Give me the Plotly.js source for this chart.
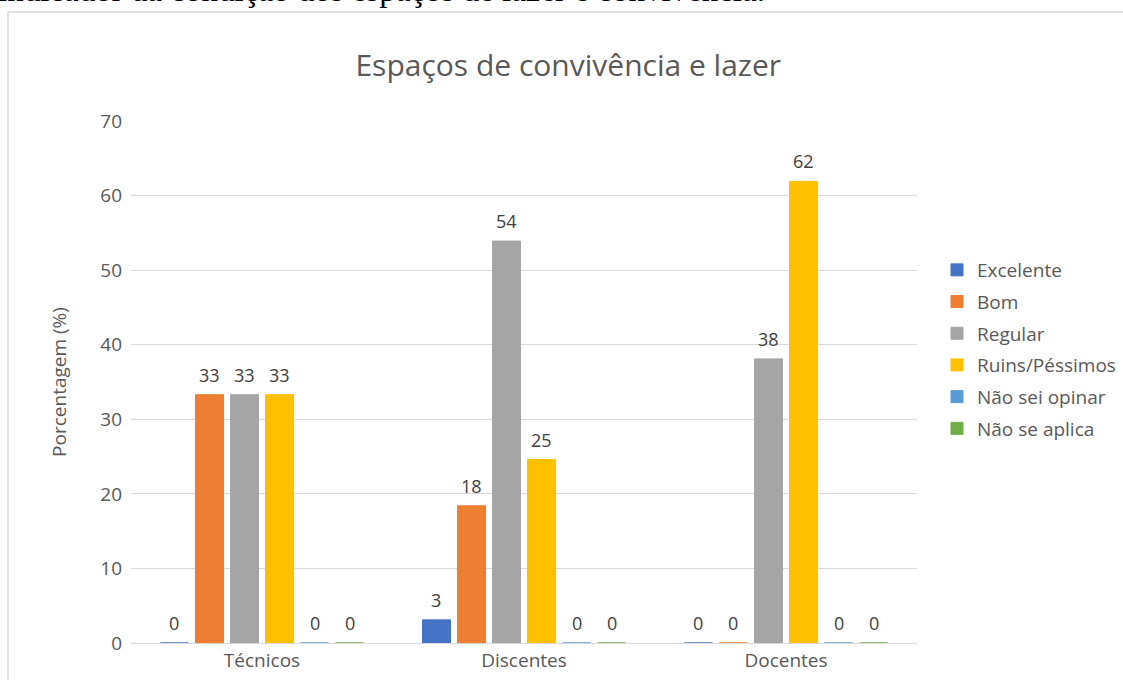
<!DOCTYPE html>
<html>
<head>
<meta charset="utf-8">
<script src="https://cdn.plot.ly/plotly-3.0.1.min.js"></script>
<style>html,body{margin:0;padding:0;background:#fff;}#chart{width:1123px;height:680px;}</style>
</head>
<body>
<div id="chart"></div>
<script>
const categories = ["Técnicos", "Discentes", "Docentes"];
const seriesNames = ["Excelente", "Bom", "Regular", "Ruins/Péssimos", "Não sei opinar", "Não se aplica"];
const excelente = [0, 3.1, 0];
const bom = [33.3, 18.4, 0];
const regular = [33.3, 53.9, 38.1];
const ruins = [33.3, 24.6, 61.9];
const naoSeiOpinar = [0, 0, 0];
const naoSeAplica = [0, 0, 0];
const yTicks = [0, 10, 20, 30, 40, 50, 60, 70];
const colors = ["#4472C4", "#ED7D31", "#A5A5A5", "#FFC000", "#5B9BD5", "#70AD47"];

const allSeries = [excelente, bom, regular, ruins, naoSeiOpinar, naoSeAplica];
const font = "Open Sans, Noto Sans, sans-serif";

const L = 131, T = 121, W = 786, H = 522;
const px = x => (x - L) / W;
const py = y => (T + H - y) / H;

const nSeries = allSeries.length;
const catPx = W / categories.length;
const bargap = 0.198;
const slotPx = catPx * (1 - bargap) / nSeries;

const traces = allSeries.map((vals, i) => ({
  type: "bar",
  name: seriesNames[i],
  x: categories,
  y: vals,
  legendgroup: "g" + i,
  marker: {color: colors[i], line: {color: colors[i], width: 1}},
  hoverinfo: "skip"
}));

const labelAnns = [];
allSeries.forEach((vals, i) => {
  vals.forEach((v, j) => {
    labelAnns.push({
      text: Math.round(v).toString(),
      xref: "x", yref: "y",
      x: categories[j], y: v,
      xshift: (i - (nSeries - 1) / 2) * slotPx,
      yanchor: "bottom", yshift: 6,
      showarrow: false,
      font: {family: font, size: 18, color: "#404040"}
    });
  });
});

const layout = {
  width: 1123, height: 680,
  margin: {l: L, r: 1123 - L - W, t: T, b: 680 - T - H, autoexpand: false},
  paper_bgcolor: "#ffffff",
  plot_bgcolor: "#ffffff",
  barmode: "group",
  bargap: bargap,
  bargroupgap: 0.2,
  showlegend: true,
  title: {
    text: "Espaços de convivência e lazer",
    font: {family: font, size: 30, color: "#595959"},
    x: 0.506, xanchor: "center", xref: "container",
    y: 1 - 65 / 680, yanchor: "middle", yref: "container"
  },
  xaxis: {
    type: "category",
    showgrid: false,
    showline: true, linecolor: "#d9d9d9", linewidth: 1,
    ticks: "",
    tickfont: {family: font, size: 19, color: "#595959"},
    zeroline: false,
    fixedrange: true
  },
  yaxis: {
    range: [0, 70],
    tickvals: yTicks,
    ticktext: yTicks.map(String),
    showgrid: true, gridcolor: "#d9d9d9", gridwidth: 1,
    zeroline: false,
    showline: false,
    ticks: "",
    ticklen: 0,
    ticklabelstandoff: 8,
    tickfont: {family: font, size: 19, color: "#595959"},
    title: {text: "Porcentagem (%)", font: {family: font, size: 19, color: "#595959"}, standoff: 28},
    fixedrange: true
  },
  legend: {
    x: px(937), xanchor: "left",
    y: py(251), yanchor: "top",
    font: {family: font, size: 19, color: "#595959"},
    tracegroupgap: 4,
    itemwidth: 30,
    bgcolor: "rgba(0,0,0,0)"
  },
  shapes: [{
    type: "rect", xref: "paper", yref: "paper",
    x0: px(8), x1: px(1140), y0: py(700), y1: py(12),
    line: {color: "#d9d9d9", width: 1.5},
    fillcolor: "rgba(0,0,0,0)",
    layer: "below"
  }],
  annotations: labelAnns.concat([{
    text: "indicador da condição dos espaços de lazer e convivência.",
    xref: "paper", yref: "paper",
    x: px(-4), xanchor: "left",
    y: py(10), yanchor: "bottom",
    showarrow: false,
    font: {family: "Liberation Serif, Times New Roman, serif", size: 33, color: "#000000"}
  }])
};

Plotly.newPlot("chart", traces, layout, {displayModeBar: false, staticPlot: true});
</script>
</body>
</html>
